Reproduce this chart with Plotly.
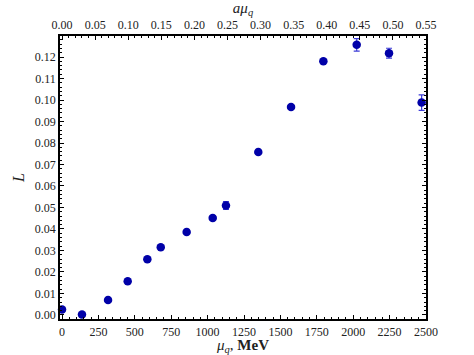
import plotly.graph_objects as go

mu_mev = [0, 137, 316, 451, 586, 678, 856, 1035, 1126, 1348, 1573, 1795, 2024, 2246, 2470]
L_vals = [0.0025, 0.0002, 0.0069, 0.0157, 0.0259, 0.0315, 0.0386, 0.0451, 0.0509, 0.0758, 0.0968, 0.1181, 0.1257, 0.1218, 0.0988]
L_err = [0.0006, 0.0005, 0.0006, 0.0008, 0.0009, 0.0008, 0.0006, 0.0009, 0.0018, 0.0005, 0.0005, 0.0007, 0.0029, 0.0023, 0.0036]
a_per_mev = 0.55 / 2500.0

x_bottom_ticks = [0, 250, 500, 750, 1000, 1250, 1500, 1750, 2000, 2250, 2500]
x_top_ticks = [0.00, 0.05, 0.10, 0.15, 0.20, 0.25, 0.30, 0.35, 0.40, 0.45, 0.50, 0.55]
y_ticks = [0.00, 0.01, 0.02, 0.03, 0.04, 0.05, 0.06, 0.07, 0.08, 0.09, 0.10, 0.11, 0.12]

font_family = "Liberation Serif"
x_range = [-14, 2500]
y_range = [-0.0019, 0.1298]

fig = go.Figure()
fig.add_trace(go.Scatter(
    x=mu_mev, y=L_vals, mode="markers",
    marker=dict(color="#0000a8", size=8.5),
    error_y=dict(type="data", array=L_err, color="#3c3cd8", thickness=1.2, width=3),
    showlegend=False, cliponaxis=False,
))

axis_common = dict(
    showgrid=False, zeroline=False, showline=True, linecolor="black", linewidth=1.5,
    ticks="inside", ticklen=4, tickcolor="black", tickwidth=1, automargin=False,
    tickfont=dict(family=font_family, size=12, color="#222"),
)

fig.update_layout(
    width=474, height=355,
    margin=dict(l=60, r=48, t=36, b=36),
    paper_bgcolor="white", plot_bgcolor="white",
    font=dict(family=font_family, color="#222"),
    xaxis=dict(
        range=x_range, tickvals=x_bottom_ticks, ticktext=[str(v) for v in x_bottom_ticks],
        minor=dict(ticks="inside", dtick=50, tick0=0, ticklen=2, tickcolor="black"),
        ticklabelstandoff=1,
        title=dict(text="<i>μ</i><sub><i>q</i></sub>, <b>MeV</b>", font=dict(size=15, family=font_family), standoff=12),
        **axis_common,
    ),
    xaxis2=dict(
        overlaying="x", side="top", anchor="y",
        range=[x_range[0] * a_per_mev, x_range[1] * a_per_mev],
        tickvals=x_top_ticks, ticktext=["%.2f" % v for v in x_top_ticks],
        minor=dict(ticks="inside", dtick=0.01, tick0=0, ticklen=2, tickcolor="black"),
        ticklabelstandoff=0,
        title=dict(text="<i>aμ</i><sub><i>q</i></sub>", font=dict(size=15, family=font_family), standoff=2),
        **axis_common,
    ),
    yaxis=dict(
        range=y_range, tickvals=y_ticks, ticktext=["%.2f" % v for v in y_ticks],
        mirror="ticks",
        minor=dict(ticks="inside", dtick=0.002, tick0=0, ticklen=2, tickcolor="black"),
        title=dict(text="<i>L</i>", font=dict(size=16, family=font_family), standoff=6),
        **axis_common,
    ),
)
# dummy trace to activate the top axis
fig.add_trace(go.Scatter(x=[0.0], y=[0.0], xaxis="x2", mode="markers",
                         marker=dict(opacity=0), showlegend=False, hoverinfo="skip"))

fig.write_html("out.html", config={"displayModeBar": False},
               post_script="document.body.style.margin='0';document.body.style.overflow='hidden';")
